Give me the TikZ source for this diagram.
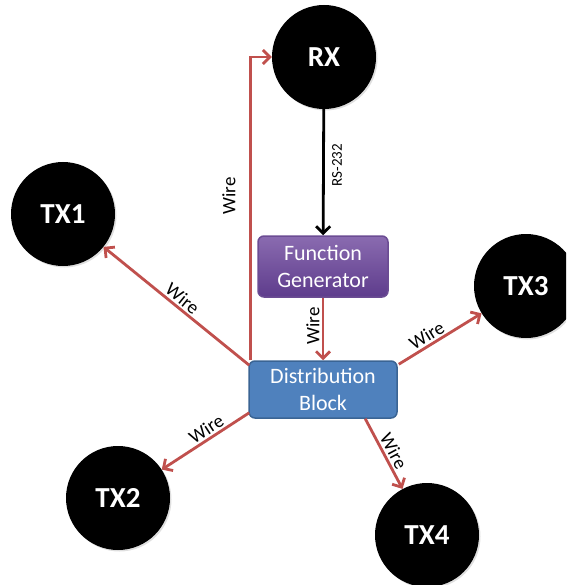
\documentclass[tikz,border=0pt]{standalone}
\usepackage{fontspec}
\setmainfont{Carlito}
\usetikzlibrary{arrows.meta,shadows,calc}
\definecolor{wirered}{HTML}{C0504D}
\definecolor{purtop}{HTML}{8A6BB0}
\definecolor{purbot}{HTML}{5E3C8C}
\definecolor{purline}{HTML}{6B4C93}
\definecolor{bluefill}{HTML}{4F81BD}
\definecolor{blueline}{HTML}{3A6494}
\begin{document}
\begin{tikzpicture}[x=1pt,y=-1pt,
  circ/.style={circle, fill=black, minimum size=104pt, inner sep=0pt, text=white,
    font=\fontsize{29}{34}\selectfont\bfseries,
    drop shadow={opacity=0.25, shadow xshift=1.5pt, shadow yshift=-1.5pt}},
  boxnode/.style={rounded corners=6pt, line width=1.5pt, text=white, align=center,
    font=\fontsize{22}{27.5}\selectfont, inner sep=0pt},
  wire/.style={draw=wirered, line width=2.8pt, -{Straight Barb[length=7pt,width=14pt]}},
  serial/.style={draw=black, line width=2.8pt, -{Straight Barb[length=7pt,width=14pt]}},
  wlabel/.style={font=\fontsize{19}{21}\selectfont, inner sep=0pt, text=black},
  slabel/.style={font=\fontsize{15}{17}\selectfont, inner sep=0pt}
]
\useasboundingbox (0,0) rectangle (566,585);
\clip (0,0) rectangle (566,585);

\node[circ] (rx) at (324,57) {RX};
\node[circ] (tx1) at (63,214) {TX1};
\node[circ] (tx2) at (118,498) {TX2};
\node[circ] (tx3) at (526,286) {TX3};
\node[circ] (tx4) at (427,535) {TX4};

\node[boxnode, draw=purline, top color=purtop, bottom color=purbot,
  minimum width=130pt, minimum height=61pt] (fg) at (323,266.5) {Function\\Generator};
\node[boxnode, draw=blueline, fill=bluefill,
  minimum width=148pt, minimum height=57pt] (db) at (323,389.5) {Distribution\\Block};

\coordinate (dbup) at ($(db.north west)+(2,0)$);
\coordinate (dbtx1) at ($(db.north west)+(1,5)$);
\coordinate (dbtx2) at ($(db.south west)+(1,-6)$);
\coordinate (dbtx3) at ($(db.north east)+(1,4)$);
\coordinate (dbtx4) at ($(db.south west)+(117,0)$);

\draw[serial] (rx) -- (fg);
\draw[wire] (fg) -- (db);
\draw[wire] (dbup) |- (rx);
\draw[wire] (dbtx1) -- node[wlabel, pos=0.5, sloped, above=2pt] (l1) {Wire} (tx1);
\draw[wire] (dbtx2) -- node[wlabel, pos=0.43, sloped, above=2pt] (l2) {Wire} (tx2);
\draw[wire] (dbtx3) -- node[wlabel, pos=0.40, sloped, above=2pt] (l3) {Wire} (tx3);
\draw[wire] (dbtx4) -- node[wlabel, pos=0.53, sloped, above=2pt] (l4) {Wire} (tx4);

\node[slabel, rotate=90] (lrs) at (337,165) {RS-232};
\node[wlabel, rotate=90] (lup) at (229,196) {Wire};
\node[wlabel, rotate=90] (lfg) at (313,326) {Wire};
\end{tikzpicture}
\end{document}
